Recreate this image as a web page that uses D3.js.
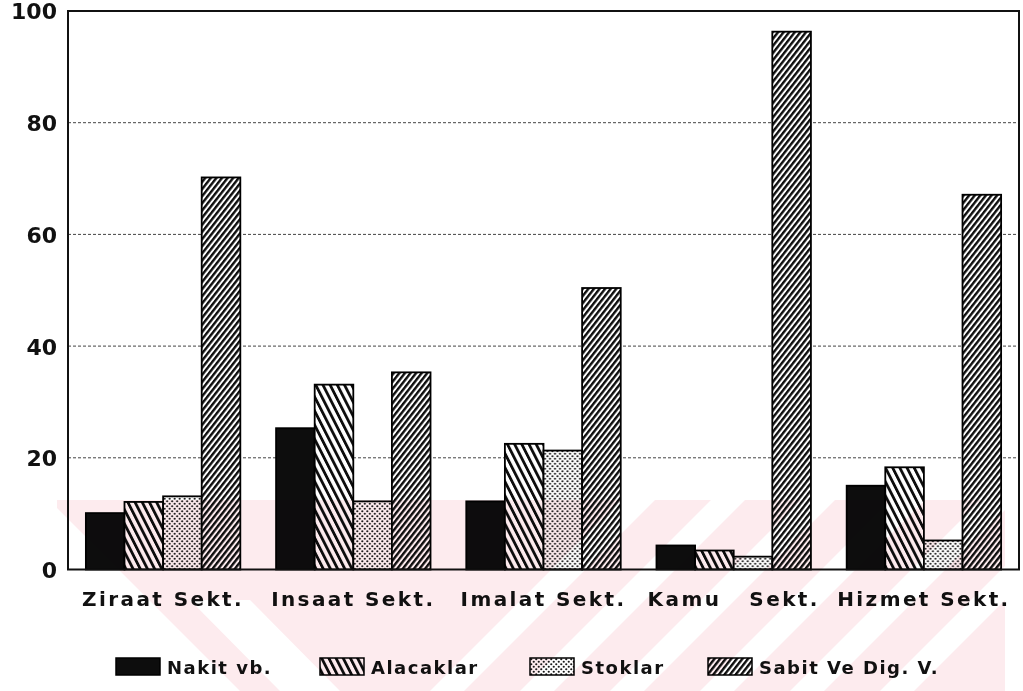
<!DOCTYPE html>
<html>
<head>
<meta charset="utf-8">
<script src="https://cdn.jsdelivr.net/npm/d3@7"></script>
<style>
  body { margin: 0; background: #fff; }
  text { font-family: "DejaVu Sans", sans-serif; font-weight: bold; fill: #111; }
</style>
</head>
<body>
<svg id="chart" width="1023" height="691"></svg>
<script>
// Sector balance-sheet structure (%)
const categories = ["Ziraat Sekt.", "Insaat Sekt.", "Imalat Sekt.", "Kamu   Sekt.", "Hizmet Sekt."];
const seriesNames = ["Nakit vb.", "Alacaklar", "Stoklar", "Sabit Ve Dig. V."];
const nakit     = [10.1, 25.3, 12.2, 4.3, 15.0];
const alacaklar = [12.1, 33.1, 22.5, 3.4, 18.3];
const stoklar   = [13.1, 12.2, 21.3, 2.3, 5.2];
const sabit     = [70.2, 35.3, 50.4, 96.3, 67.1];
const yTicks = [0, 20, 40, 60, 80, 100];

const seriesValues = [nakit, alacaklar, stoklar, sabit];
const fills = ["url(#p-nakit)", "url(#p-alacak)", "url(#p-stok)", "url(#p-sabit)"];

const svg = d3.select("#chart");
const plotLeft = 68, plotRight = 1019, plotTop = 11, plotBottom = 569.5;

const x0 = d3.scaleBand().domain(categories).range([plotLeft, plotRight]).paddingInner(0.188).paddingOuter(0.094);
const x1 = d3.scaleBand().domain(seriesNames).range([0, x0.bandwidth()]).padding(0);
const y = d3.scaleLinear().domain([0, 100]).range([plotBottom, plotTop]);

// fill patterns
const defs = svg.append("defs");
defs.append("pattern").attr("id", "p-nakit").attr("patternUnits", "userSpaceOnUse")
  .attr("width", 8).attr("height", 8)
  .call(p => p.append("rect").attr("width", 8).attr("height", 8).attr("fill", "#0d0d0d"));

const pa = defs.append("pattern").attr("id", "p-alacak").attr("patternUnits", "userSpaceOnUse")
  .attr("width", 6.4).attr("height", 10).attr("patternTransform", "rotate(-27)");
pa.append("rect").attr("width", 6.4).attr("height", 10).attr("fill", "#fff");
pa.append("rect").attr("width", 2.8).attr("height", 10).attr("fill", "#0d0d0d");

const ps = defs.append("pattern").attr("id", "p-stok").attr("patternUnits", "userSpaceOnUse")
  .attr("width", 5).attr("height", 5);
ps.append("rect").attr("width", 5).attr("height", 5).attr("fill", "#fff");
ps.append("circle").attr("cx", 1.25).attr("cy", 1.25).attr("r", 1.1).attr("fill", "#1a1a1a");
ps.append("circle").attr("cx", 3.75).attr("cy", 3.75).attr("r", 1.1).attr("fill", "#1a1a1a");

const pb = defs.append("pattern").attr("id", "p-sabit").attr("patternUnits", "userSpaceOnUse")
  .attr("width", 4.4).attr("height", 10).attr("patternTransform", "rotate(38)");
pb.append("rect").attr("width", 4.4).attr("height", 10).attr("fill", "#fff");
pb.append("rect").attr("width", 2.4).attr("height", 10).attr("fill", "#0d0d0d");

// dotted gridlines
svg.append("g")
  .selectAll("line").data(yTicks.filter(t => t > 0 && t < 100)).join("line")
  .attr("x1", plotLeft).attr("x2", plotRight)
  .attr("y1", d => y(d)).attr("y2", d => y(d))
  .attr("stroke", "#444").attr("stroke-width", 1).attr("stroke-dasharray", "3,2");

// bars
const groups = svg.append("g").selectAll("g").data(categories).join("g")
  .attr("transform", d => `translate(${x0(d)},0)`);
groups.selectAll("rect")
  .data((c, i) => seriesNames.map((s, k) => ({ s, k, v: seriesValues[k][i] })))
  .join("rect")
  .attr("x", d => x1(d.s))
  .attr("y", d => y(d.v))
  .attr("width", x1.bandwidth())
  .attr("height", d => y(0) - y(d.v))
  .attr("fill", d => fills[d.k])
  .attr("stroke", "#000").attr("stroke-width", 1.8);

// frame
svg.append("rect").attr("x", plotLeft).attr("y", plotTop)
  .attr("width", plotRight - plotLeft).attr("height", plotBottom - plotTop)
  .attr("fill", "none").attr("stroke", "#111").attr("stroke-width", 2);

// y axis labels
const yAxis = d3.axisLeft(y).tickValues(yTicks).tickSize(0).tickPadding(11);
const gy = svg.append("g").attr("transform", `translate(${plotLeft},0)`).call(yAxis);
gy.select(".domain").remove();
gy.selectAll("text").attr("font-size", 22).attr("font-family", "DejaVu Sans").attr("font-weight", "bold")
  .attr("fill", "#111").attr("dy", "0.36em");

// x axis labels
const xAxis = d3.axisBottom(x0).tickSize(0).tickPadding(22);
const gx = svg.append("g").attr("transform", `translate(0,${plotBottom})`).call(xAxis);
gx.select(".domain").remove();
gx.selectAll("text").attr("font-size", 20).attr("font-family", "DejaVu Sans").attr("font-weight", "bold")
  .attr("fill", "#111").style("letter-spacing", "2.4px").style("white-space", "pre");

// legend
const legendSwatchX = [116, 320, 530, 708];
const lg = svg.append("g").selectAll("g").data(seriesNames).join("g")
  .attr("transform", (d, i) => `translate(${legendSwatchX[i]},658)`);
lg.append("rect").attr("width", 44).attr("height", 17)
  .attr("fill", (d, i) => fills[i]).attr("stroke", "#000").attr("stroke-width", 1.5);
lg.append("text").attr("x", 51).attr("y", 16).attr("font-size", 18)
  .style("letter-spacing", "1.5px").text(d => d);

// faint background watermark (pink field with white diagonal cut-outs),
// multiplied as one layer over the lower part of the page
const wm = svg.append("g").style("mix-blend-mode", "multiply").style("isolation", "isolate");
wm.append("rect").attr("x", 57).attr("y", 500).attr("width", 948).attr("height", 191).attr("fill", "#fdebee");
wm.append("polygon").attr("points", "57,508 57,691 240,691").attr("fill", "#fff");
wm.append("polygon").attr("points", "190,600 250,600 340,691 280,691").attr("fill", "#fff");
[430, 520, 610, 700, 790, 880].forEach(b => {
  wm.append("polygon")
    .attr("points", `${b},691 ${b + 34},691 ${b + 34 + 191},500 ${b + 191},500`)
    .attr("fill", "#fff");
});
</script>
</body>
</html>
